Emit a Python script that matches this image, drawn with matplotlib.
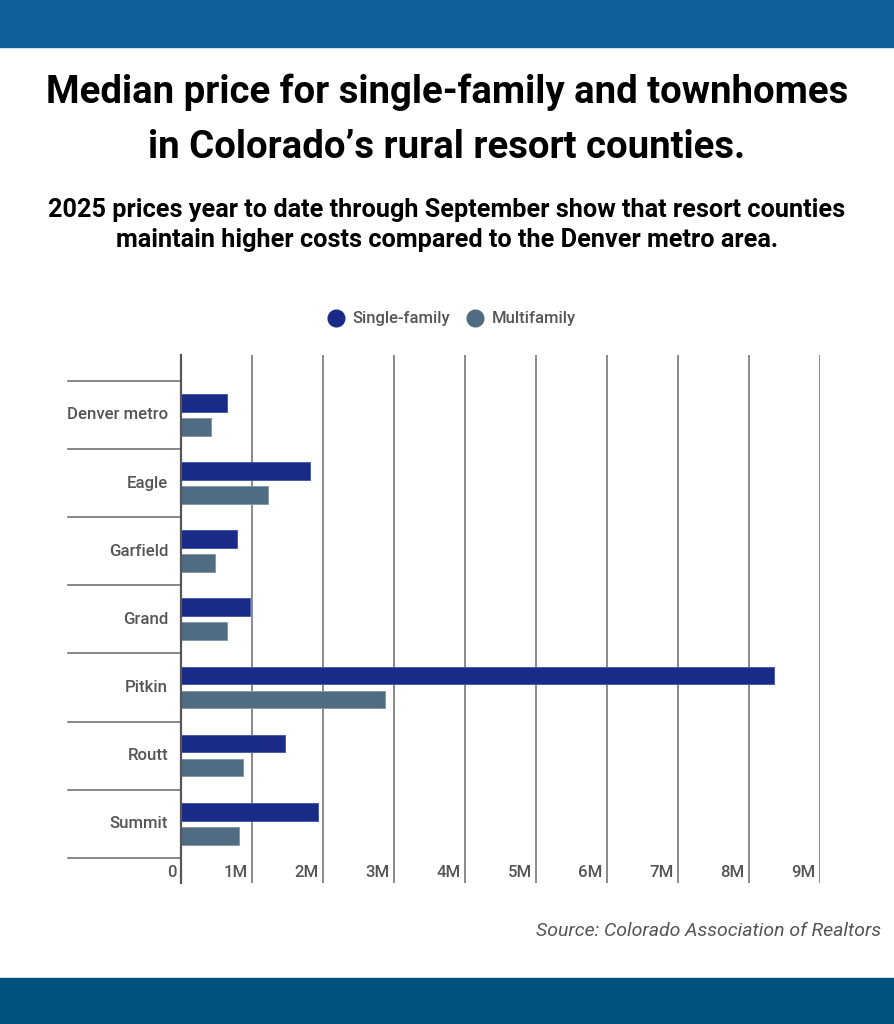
import matplotlib.pyplot as plt
import matplotlib.transforms as mtransforms
from matplotlib.lines import Line2D
from matplotlib.patches import Rectangle

plt.rcParams['font.family'] = ['Roboto', 'DejaVu Sans']

# data (millions of dollars)
counties = ["Denver metro", "Eagle", "Garfield", "Grand", "Pitkin", "Routt", "Summit"]
single_family = [0.65, 1.82, 0.79, 0.97, 8.35, 1.46, 1.93]
multifamily = [0.42, 1.23, 0.48, 0.65, 2.87, 0.87, 0.82]
tick_values = [0, 1, 2, 3, 4, 5, 6, 7, 8, 9]
tick_labels = ["0", "1M", "2M", "3M", "4M", "5M", "6M", "7M", "8M", "9M"]

sf_color = '#1A2A87'
mf_color = '#4F6C82'
text_gray = '#555555'

fig = plt.figure(figsize=(8.94, 10.24), dpi=100)

# header / footer bands
fig.patches.append(Rectangle((0, 1 - 47 / 1024), 1, 47 / 1024, transform=fig.transFigure,
                             color='#11609A', zorder=0))
fig.patches.append(Rectangle((0, 0), 1, 46 / 1024, transform=fig.transFigure,
                             color='#02527F', zorder=0))

fig.text(0.5, 1 - 92 / 1024, "Median price for single-family and townhomes",
         ha='center', va='center', fontsize=27.6, fontweight='bold', color='black')
fig.text(0.5, 1 - 147 / 1024, "in Colorado\u2019s rural resort counties.",
         ha='center', va='center', fontsize=27.6, fontweight='bold', color='black')
fig.text(0.5, 1 - 210 / 1024, "2025 prices year to date through September show that resort counties",
         ha='center', va='center', fontsize=18.2, fontweight='bold', color='black')
fig.text(0.5, 1 - 240 / 1024, "maintain higher costs compared to the Denver metro area.",
         ha='center', va='center', fontsize=18.2, fontweight='bold', color='black')

fig.text(881 / 894, 1 - 931 / 1024, "Source: Colorado Association of Realtors",
         ha='right', va='center', fontsize=14, style='italic', color=text_gray)

# legend
handles = [
    Line2D([], [], marker='o', linestyle='None', color=sf_color, markersize=12, label='Single-family'),
    Line2D([], [], marker='o', linestyle='None', color=mf_color, markersize=12, label='Multifamily'),
]
leg = fig.legend(handles=handles, loc='center', bbox_to_anchor=(0.504, 1 - 319 / 1024), ncol=2,
                 frameon=False, fontsize=12, handlelength=1.2, handletextpad=0.4,
                 columnspacing=0.9)
for t in leg.get_texts():
    t.set_color(text_gray)
    t.set_fontweight('medium')

ax = fig.add_axes([181 / 894, 1 - 883 / 1024, 639 / 894, 528 / 1024])

ys = list(range(len(counties)))
bar_h = 0.26
off = 0.176
ax.barh([y - off for y in ys], single_family, height=bar_h, color=sf_color,
        edgecolor='#3F51A8', linewidth=0.6, zorder=3)
ax.barh([y + off for y in ys], multifamily, height=bar_h, color=mf_color,
        edgecolor='#7F95A8', linewidth=0.6, zorder=3)

ax.set_xlim(0, 9)
ax.set_ylim(6.87, -0.88)

for v in tick_values[1:]:
    ax.axvline(v, color='#8a8a8a', lw=1.4, zorder=1)

for s in ['top', 'right', 'bottom']:
    ax.spines[s].set_visible(False)
ax.spines['left'].set_color('#555555')
ax.spines['left'].set_linewidth(1.6)
ax.spines['left'].set_zorder(4)

ax.set_xticks([])
ax.set_yticks([])

# category separators extending left of the axis
trans = mtransforms.blended_transform_factory(ax.transAxes, ax.transData)
for b in range(len(counties) + 1):
    ax.plot([-113 / 639, 0], [b - 0.5, b - 0.5], transform=trans, color='#666666',
            lw=1.1, clip_on=False)

for y, name in zip(ys, counties):
    ax.text(-13 / 639, y, name, transform=trans, ha='right', va='center',
            fontsize=12.1, fontweight='medium', color=text_gray)

# x tick labels sit inside the plot, left of each gridline
for v, lab in zip(tick_values, tick_labels):
    ax.text(v - 0.06, 6.72, lab, ha='right', va='center', fontsize=12.1,
            fontweight='medium', color=text_gray)

fig.savefig('out.png', dpi=100)
